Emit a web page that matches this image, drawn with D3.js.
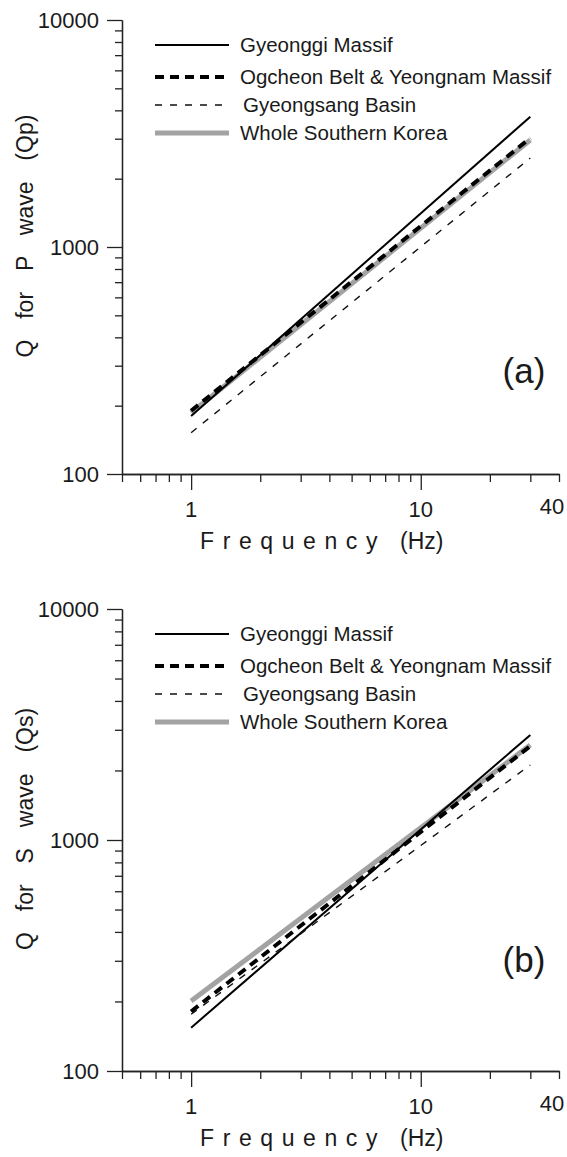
<!DOCTYPE html>
<html>
<head>
<meta charset="utf-8">
<script src="https://cdn.jsdelivr.net/npm/d3@7"></script>
<style>
  body { margin: 0; background: #fff; }
  text { font-family: Arial, "Liberation Sans", sans-serif; fill: #1a1a1a; }
</style>
</head>
<body>
<svg id="chart"></svg>
<script>
// data: Q at 1 Hz and at 30 Hz for each region
const regions = ["Gyeonggi Massif", "Ogcheon Belt & Yeongnam Massif", "Gyeongsang Basin", "Whole Southern Korea"];
const freqEnds = [1, 30];
const qpAt1 = [180, 190, 152, 186];
const qpAt30 = [3750, 3020, 2466, 2960];
const qsAt1 = [154, 181, 176, 201];
const qsAt30 = [2850, 2550, 2113, 2577];
const yTickLabels = [100, 1000, 10000];
const xTickLabels = [1, 10, 40];

const svg = d3.select("#chart").attr("width", 567).attr("height", 1157);

// line styles per region
const styles = [
  { stroke: "#000", width: 2, dash: null },
  { stroke: "#000", width: 4, dash: "9,6" },
  { stroke: "#111", width: 1.4, dash: "7,8" },
  { stroke: "#a3a3a3", width: 5, dash: null }
];
const drawOrder = [3, 0, 2, 1];

const x = d3.scaleLog().domain([0.5, 40]).range([122, 559]);

function panel(top, bottom, qAt1, qAt30, ytitle, tag) {
  const y = d3.scaleLog().domain([100, 10000]).range([bottom, top]);
  const g = svg.append("g");

  // minor y ticks
  const yMinor = [];
  for (let d = 100; d < 10000; d *= 10)
    for (let k = 2; k <= 9; k++) yMinor.push(d * k);

  g.append("g")
    .attr("transform", `translate(${x(0.5)},0)`)
    .call(d3.axisLeft(y).tickValues(yMinor).tickSize(7).tickSizeOuter(0).tickFormat(""))
    .call(a => a.selectAll("line,path").attr("stroke", "#222").attr("stroke-width", 1.3));
  g.append("g")
    .attr("transform", `translate(${x(0.5)},0)`)
    .call(d3.axisLeft(y).tickValues(yTickLabels).tickSize(15).tickSizeOuter(0).tickPadding(8).tickFormat(d3.format("d")))
    .call(a => a.selectAll("line,path").attr("stroke", "#222").attr("stroke-width", 1.3))
    .call(a => a.selectAll("text").attr("font-size", 22).attr("fill", "#1a1a1a"));

  // x axis
  const xMinor = [0.5, 0.6, 0.7, 0.8, 0.9, 2, 3, 4, 5, 6, 7, 8, 9, 20, 30, 40];
  g.append("g")
    .attr("transform", `translate(0,${bottom})`)
    .call(d3.axisBottom(x).tickValues(xMinor).tickSize(8).tickSizeOuter(0).tickFormat(""))
    .call(a => a.selectAll("line,path").attr("stroke", "#222").attr("stroke-width", 1.3));
  g.append("g")
    .attr("transform", `translate(0,${bottom})`)
    .call(d3.axisBottom(x).tickValues([1, 10]).tickSize(16).tickSizeOuter(0).tickFormat(""))
    .call(a => a.selectAll("line,path").attr("stroke", "#222").attr("stroke-width", 1.3));
  g.selectAll(".xl").data(xTickLabels).join("text")
    .attr("x", d => x(d) + (d === 40 ? -7 : 0))
    .attr("y", d => bottom + (d === 40 ? 40 : 43))
    .attr("text-anchor", "middle")
    .attr("font-size", 22)
    .text(d => d);

  // axis titles
  const xt = g.append("text").attr("x", 200).attr("y", bottom + 75).attr("font-size", 23);
  xt.append("tspan").attr("letter-spacing", 8.6).text("Frequency");
  xt.append("tspan").attr("x", 400).text("(Hz)");

  g.append("text")
    .attr("transform", `translate(33,${top + (bottom - top) * 0.476}) rotate(-90)`)
    .attr("text-anchor", "middle")
    .attr("font-size", 23)
    .attr("word-spacing", 14.5)
    .text(ytitle);

  g.append("text")
    .attr("x", 524).attr("y", top + 363)
    .attr("text-anchor", "middle")
    .attr("font-size", 35)
    .text(tag);

  // lines
  const line = d3.line().x(d => x(d[0])).y(d => y(d[1]));
  drawOrder.forEach(i => {
    const s = styles[i];
    g.append("path")
      .datum(freqEnds.map((f, j) => [f, j === 0 ? qAt1[i] : qAt30[i]]))
      .attr("d", line)
      .attr("fill", "none")
      .attr("stroke", s.stroke)
      .attr("stroke-width", s.width)
      .attr("stroke-dasharray", s.dash);
  });

  // legend
  const rowY = [25, 57, 85, 113];
  const lg = g.append("g").attr("transform", `translate(0,${top})`);
  regions.forEach((name, i) => {
    const s = styles[i];
    lg.append("line")
      .attr("x1", 155).attr("x2", 229)
      .attr("y1", rowY[i]).attr("y2", rowY[i])
      .attr("stroke", s.stroke)
      .attr("stroke-width", s.width)
      .attr("stroke-dasharray", s.dash);
    lg.append("text")
      .attr("x", i === 2 ? 243 : 240)
      .attr("y", rowY[i])
      .attr("dy", "0.36em")
      .attr("font-size", 20.5)
      .text(name);
  });
}

panel(20, 474, qpAt1, qpAt30, "Q for P wave (Qp)", "(a)");
panel(609, 1071, qsAt1, qsAt30, "Q for S wave (Qs)", "(b)");
</script>
</body>
</html>
